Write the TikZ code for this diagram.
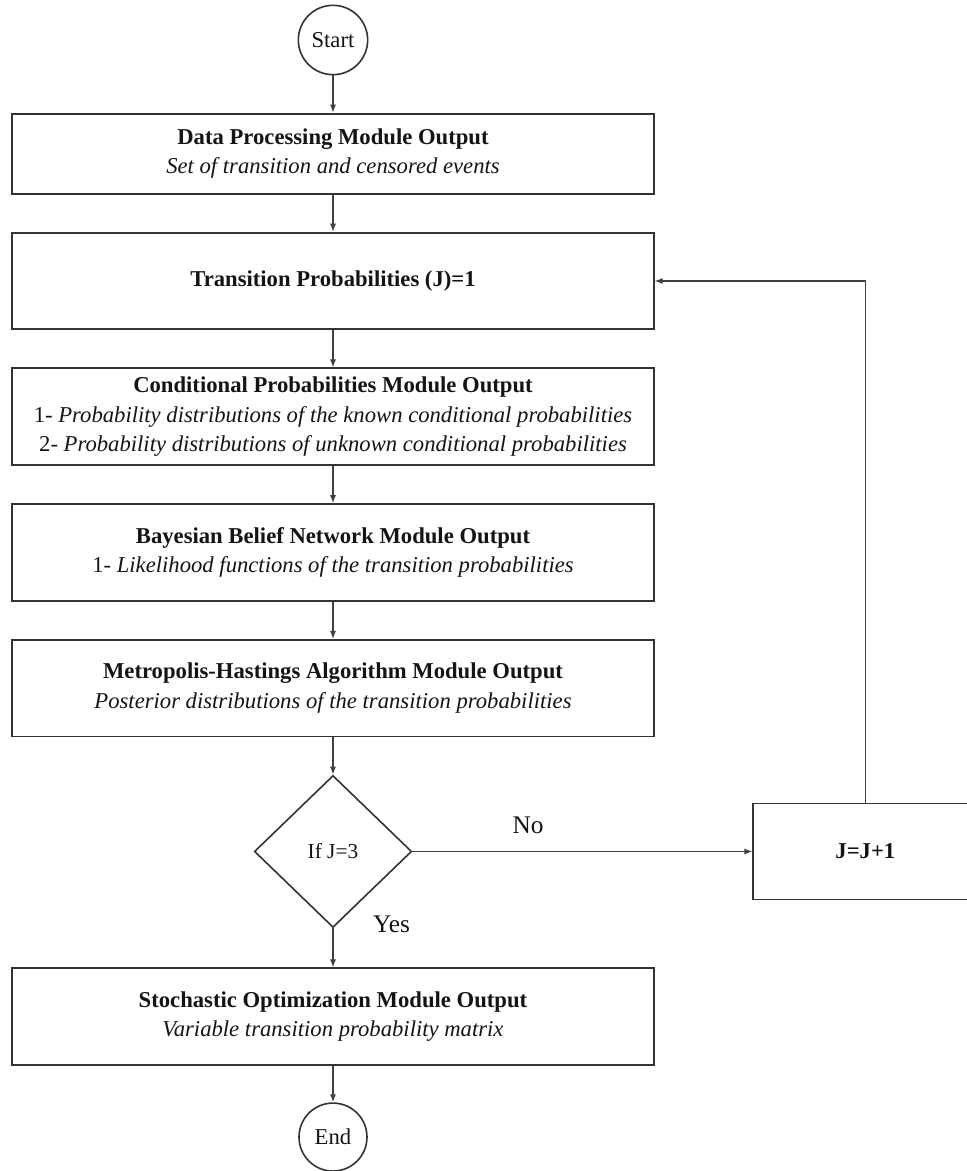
\documentclass[tikz,border=0pt]{standalone}
\usepackage{fontspec}
\setmainfont{Liberation Serif}
\usetikzlibrary{positioning,arrows.meta,shapes.geometric}
\definecolor{figline}{HTML}{333333}
\definecolor{figarrow}{HTML}{404040}
\definecolor{figtext}{HTML}{141414}

\begin{document}
\begin{tikzpicture}[
  node distance=27.9pt,
  mbox/.style={draw=figline, line width=1.4pt, align=center, text=figtext,
               font=\fontsize{17}{22}\selectfont, minimum width=481pt,
               minimum height=72.5pt, inner sep=3pt},
  term/.style={draw=figline, line width=1.2pt, circle, text=figtext,
               font=\fontsize{17}{21}\selectfont, minimum size=52pt, inner sep=0pt},
  test/.style={draw=figline, line width=1.2pt, diamond, text=figtext,
               font=\fontsize{16}{20}\selectfont, minimum width=118pt,
               minimum height=114pt, inner sep=0pt},
  flow/.style={-{Latex[length=6pt,width=4.5pt]}, draw=figarrow, line width=0.9pt},
  blab/.style={font=\fontsize{19}{23}\selectfont, text=figtext}
]
\useasboundingbox (-249.75pt,30pt) rectangle (475.5pt,-848.25pt);
\clip (-249.75pt,30pt) rectangle (475.5pt,-848.25pt);
\node[term] (start) at (0,0) {Start};
\node[mbox, below=of start, minimum height=60pt] (dpm)
  {\textbf{Data Processing Module Output}\\\textit{Set of transition and censored events}};
\node[mbox, below=of dpm] (tp) {\textbf{Transition Probabilities (J)=1}};
\node[mbox, below=of tp] (cpm)
  {\textbf{Conditional Probabilities Module Output}\\
   1- \textit{Probability distributions of the known conditional probabilities}\\
   2- \textit{Probability distributions of unknown conditional probabilities}};
\node[mbox, below=of cpm] (bbn)
  {\textbf{Bayesian Belief Network Module Output}\\
   1- \textit{Likelihood functions of the transition probabilities}};
\node[mbox, below=of bbn] (mha)
  {\textbf{Metropolis-Hastings Algorithm Module Output}\\
   \textit{Posterior distributions of the transition probabilities}};
\node[test, below=of mha] (dia) {If J=3};
\node[mbox, below=29.4pt of dia] (som)
  {\textbf{Stochastic Optimization Module Output}\\
   \textit{Variable transition probability matrix}};
\node[term, below=27.2pt of som, minimum size=51pt] (end) {End};
\node[mbox, right=255pt of dia, minimum width=168pt, minimum height=72pt] (inc)
  {\textbf{J=J+1}};
\draw[flow] (start) -- (dpm);
\draw[flow] (dpm) -- (tp);
\draw[flow] (tp) -- (cpm);
\draw[flow] (cpm) -- (bbn);
\draw[flow] (bbn) -- (mha);
\draw[flow] (mha) -- (dia);
\draw[flow] (dia) -- node[blab, at start, xshift=44pt, yshift=3pt] {Yes} (som);
\draw[flow] (som) -- (end);
\draw[flow] (dia) -- node[blab, pos=0.34, yshift=19.5pt] {No} (inc);
\draw[flow] (inc.north) |- (tp.east);
\end{tikzpicture}
\end{document}
